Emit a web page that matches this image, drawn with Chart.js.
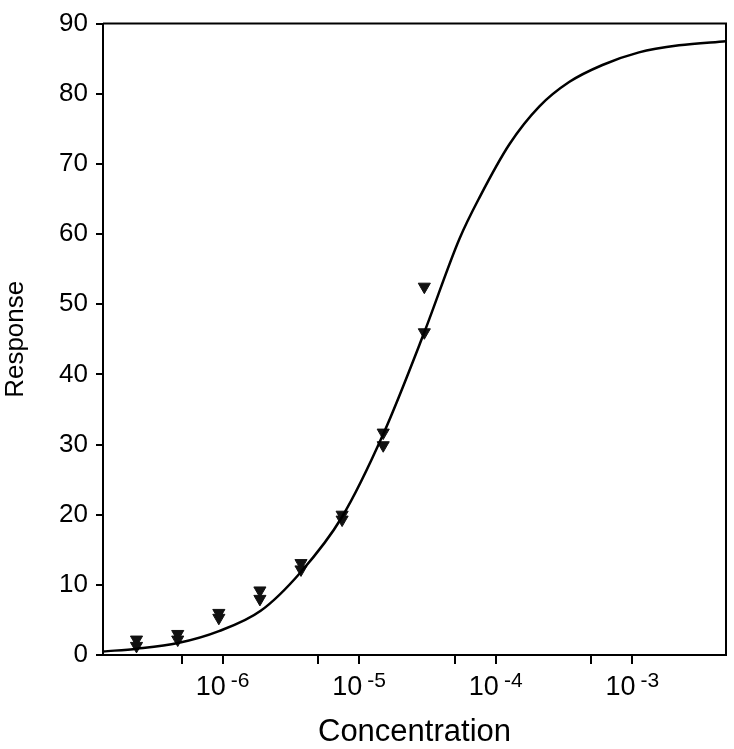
<!DOCTYPE html>
<html>
<head>
<meta charset="utf-8">
<script src="https://cdn.jsdelivr.net/npm/chart.js@4"></script>
<style>
  html, body { margin: 0; background: #fff; }
  canvas { display: block; }
</style>
</head>
<body>
<canvas id="chart" width="734" height="749"></canvas>
<script>
// measured points: two replicates per concentration (2-fold dilutions)
const conc = [2.34e-7, 4.69e-7, 9.38e-7, 1.875e-6, 3.75e-6, 7.5e-6, 1.5e-5, 3e-5];
const rep1 = [2.2, 3.0, 6.0, 9.2, 13.1, 20.0, 31.7, 52.5];
const rep2 = [1.3, 2.2, 5.3, 8.0, 12.2, 19.3, 29.9, 46.0];

// fitted curve
const curveX = [1.33e-7, 2.37e-7, 4.71e-7, 9.4e-7, 1.9e-6, 3.73e-6, 7.45e-6, 1.51e-5, 3.0e-5,
                5.42e-5, 7.6e-5, 1.26e-4, 2.09e-4, 3.47e-4, 6.05e-4, 1.12e-3, 2.2e-3, 4.86e-3];
const curveY = [0.5, 0.9, 1.7, 3.4, 6.3, 11.8, 19.6, 31.6, 46.0,
                59.3, 65.2, 72.8, 78.2, 81.7, 84.1, 85.9, 86.9, 87.5];

const xTicks = [5e-7, 1e-6, 5e-6, 1e-5, 5e-5, 1e-4, 5e-4, 1e-3];
const xMin = 1.33e-7, xMax = 4.86e-3;
const yMin = 0, yMax = 90, yStep = 10;

const FONT = '"Liberation Sans", Arial, sans-serif';
Chart.defaults.font.family = FONT;
Chart.defaults.color = '#000';

// frame (top/right), axis stub on the left, and 10^n tick labels
const frameAndLabels = {
  id: 'frameAndLabels',
  afterDraw(chart) {
    const { ctx, chartArea: a, scales: { x } } = chart;
    ctx.save();
    ctx.strokeStyle = '#000';
    ctx.lineWidth = 2;
    ctx.beginPath();
    ctx.moveTo(a.left - 7, a.bottom); ctx.lineTo(a.left, a.bottom);
    ctx.moveTo(a.left, a.top); ctx.lineTo(a.right, a.top); ctx.lineTo(a.right, a.bottom);
    ctx.stroke();

    ctx.fillStyle = '#000';
    ctx.textBaseline = 'alphabetic';
    ctx.textAlign = 'left';
    xTicks.forEach(v => {
      const lg = Math.log10(v);
      const e = Math.round(lg);
      if (Math.abs(lg - e) > 1e-6) return;
      const px = x.getPixelForValue(v);
      const sup = String(e);
      ctx.font = '27px ' + FONT;
      const wb = ctx.measureText('10').width;
      ctx.font = '21px ' + FONT;
      const we = ctx.measureText(sup).width;
      const gap = 5;
      const sx = px - (wb + gap + we) / 2;
      ctx.font = '27px ' + FONT;
      ctx.fillText('10', sx, a.bottom + 40);
      ctx.font = '21px ' + FONT;
      ctx.fillText(sup, sx + wb + gap, a.bottom + 32);
    });
    ctx.restore();
  }
};

new Chart('chart', {
  type: 'scatter',
  data: {
    datasets: [
      {
        label: 'fit',
        data: curveX.map((v, i) => ({ x: v, y: curveY[i] })),
        showLine: true, borderColor: '#000', borderWidth: 2.5,
        pointRadius: 0, cubicInterpolationMode: 'monotone'
      },
      {
        label: 'rep 1',
        data: conc.map((v, i) => ({ x: v, y: rep1[i] })),
        pointStyle: 'triangle', rotation: 180, radius: 7,
        backgroundColor: '#111', borderColor: '#111', borderWidth: 1
      },
      {
        label: 'rep 2',
        data: conc.map((v, i) => ({ x: v, y: rep2[i] })),
        pointStyle: 'triangle', rotation: 180, radius: 7,
        backgroundColor: '#111', borderColor: '#111', borderWidth: 1
      }
    ]
  },
  options: {
    responsive: false,
    animation: false,
    devicePixelRatio: 1,
    layout: { padding: { top: 15, right: 7, bottom: 0, left: 0 } },
    plugins: { legend: { display: false }, tooltip: { enabled: false } },
    scales: {
      x: {
        type: 'logarithmic', min: xMin, max: xMax,
        afterBuildTicks: s => { s.ticks = xTicks.map(v => ({ value: v })); },
        afterFit: s => { s.height = 94; },
        ticks: { display: false },
        grid: { drawOnChartArea: false, color: '#000', lineWidth: 2, tickLength: 9 },
        border: { color: '#000', width: 2 },
        title: { display: true, text: 'Concentration', font: { size: 31 }, padding: { top: 0, bottom: -2 } }
      },
      y: {
        min: yMin, max: yMax,
        ticks: { stepSize: yStep, padding: 8, font: { size: 26 } },
        afterFit: s => { s.width = 103; },
        grid: { drawOnChartArea: false, color: '#000', lineWidth: 2, tickLength: 7 },
        border: { color: '#000', width: 2 },
        title: { display: true, text: 'Response', font: { size: 26 }, padding: { top: 0, bottom: 0 } }
      }
    }
  },
  plugins: [frameAndLabels]
});
</script>
</body>
</html>
